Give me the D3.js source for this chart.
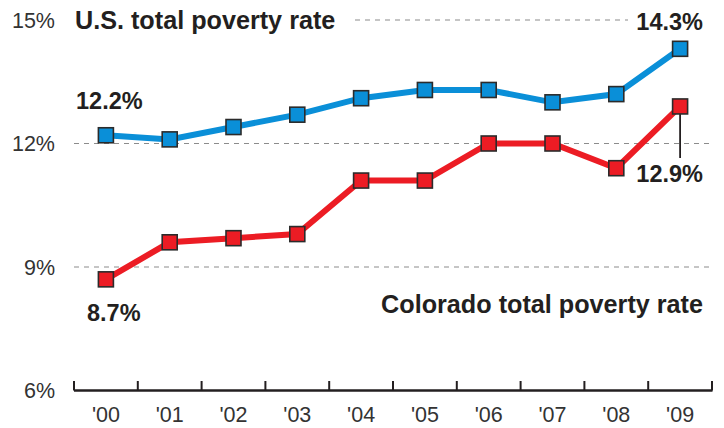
<!DOCTYPE html>
<html>
<head>
<meta charset="utf-8">
<script src="https://cdn.jsdelivr.net/npm/d3@7"></script>
<style>
  html, body { margin: 0; padding: 0; background: #fff; }
  svg { display: block; }
  text { font-family: "Liberation Sans", Arial, Helvetica, sans-serif; }
</style>
</head>
<body>
<svg id="chart" width="724" height="428"></svg>
<script>
const years = ["'00", "'01", "'02", "'03", "'04", "'05", "'06", "'07", "'08", "'09"];
const usRate = [12.2, 12.1, 12.4, 12.7, 13.1, 13.3, 13.3, 13.0, 13.2, 14.3];
const coRate = [8.7, 9.6, 9.7, 9.8, 11.1, 11.1, 12.0, 12.0, 11.4, 12.9];
const yTicks = [6, 9, 12, 15];
const yTickLabels = ["6%", "9%", "12%", "15%"];

const svg = d3.select("#chart");
const x = d3.scaleBand().domain(years).range([74, 712]).padding(0);
const y = d3.scaleLinear().domain([6, 15]).range([390.5, 20]);
const cx = d => x(d) + x.bandwidth() / 2;

const BLUE = "#0a8fd8", RED = "#ec1c24", INK = "#231f20";

// gridlines
const grid = svg.append("g");
[9, 12].forEach(v => {
  grid.append("line").attr("x1", 74).attr("x2", 712)
    .attr("y1", y(v)).attr("y2", y(v))
    .attr("stroke", "#8c8c8c").attr("stroke-width", 1.2).attr("stroke-dasharray", "5,5");
});
grid.append("line").attr("x1", 355).attr("x2", 628)
  .attr("y1", y(15)).attr("y2", y(15))
  .attr("stroke", "#8c8c8c").attr("stroke-width", 1.2).attr("stroke-dasharray", "5,5");

// y labels
svg.append("g").selectAll("text").data(yTicks).join("text")
  .attr("x", 55).attr("y", d => y(d) + 7.5)
  .attr("text-anchor", "end").attr("font-size", 21.5).attr("fill", "#333")
  .text((d, i) => yTickLabels[i]);

// x axis
const ax = svg.append("g");
ax.append("line").attr("x1", 74).attr("x2", 712.5).attr("y1", 390.5).attr("y2", 390.5)
  .attr("stroke", INK).attr("stroke-width", 2.5);
const bounds = years.map(d => x(d)).concat([x.range()[1]]);
ax.selectAll("line.tick").data(bounds).join("line").attr("class", "tick")
  .attr("x1", d => d).attr("x2", d => d).attr("y1", 390.5).attr("y2", 381)
  .attr("stroke", INK).attr("stroke-width", 2);
ax.selectAll("text").data(years).join("text")
  .attr("x", d => cx(d)).attr("y", 421.5)
  .attr("text-anchor", "middle").attr("font-size", 21.5).attr("fill", "#333")
  .text(d => d);

// lines
const line = d3.line().x((d, i) => cx(years[i])).y(d => y(d));
svg.append("path").datum(usRate).attr("d", line).attr("fill", "none")
  .attr("stroke", BLUE).attr("stroke-width", 6).attr("stroke-linejoin", "miter");
svg.append("path").datum(coRate).attr("d", line).attr("fill", "none")
  .attr("stroke", RED).attr("stroke-width", 6).attr("stroke-linejoin", "miter");

// leader line for 12.9%
svg.append("line").attr("x1", cx(years[9])).attr("x2", cx(years[9]))
  .attr("y1", y(coRate[9])).attr("y2", 158)
  .attr("stroke", INK).attr("stroke-width", 1.8);

// markers
const S = 15;
function markers(data, color) {
  svg.append("g").selectAll("rect").data(data).join("rect")
    .attr("x", (d, i) => cx(years[i]) - S / 2).attr("y", d => y(d) - S / 2)
    .attr("width", S).attr("height", S)
    .attr("fill", color).attr("stroke", "#2b2b2b").attr("stroke-width", 1.6);
}
markers(usRate, BLUE);
markers(coRate, RED);

// titles
svg.append("text").attr("x", 75).attr("y", 29).attr("font-size", 25.2)
  .attr("font-weight", "bold").attr("fill", INK).text("U.S. total poverty rate");
svg.append("text").attr("x", 703).attr("y", 313).attr("font-size", 25.2)
  .attr("text-anchor", "end").attr("font-weight", "bold").attr("fill", INK)
  .text("Colorado total poverty rate");

// value labels
const fmt = v => v.toFixed(1) + "%";
const lab = (t, xx, yy, anchor) => svg.append("text").attr("x", xx).attr("y", yy)
  .attr("text-anchor", anchor).attr("font-size", 23.5).attr("font-weight", "bold")
  .attr("fill", INK).text(t);
lab(fmt(usRate[0]), 76, 109, "start");
lab(fmt(usRate[9]), 703, 30, "end");
lab(fmt(coRate[0]), 87, 321, "start");
lab(fmt(coRate[9]), 703, 182, "end");
</script>
</body>
</html>
